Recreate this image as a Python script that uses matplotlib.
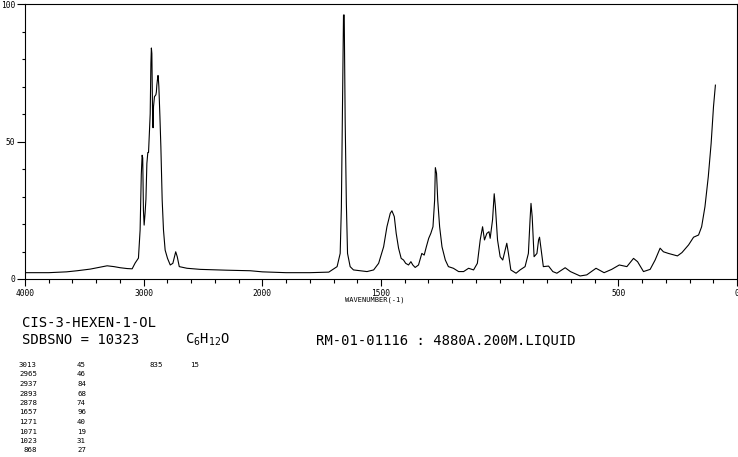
import matplotlib
matplotlib.use("Agg")
import matplotlib.pyplot as plt
import numpy as np

# Raman spectrum of cis-3-hexen-1-ol (SDBS style plot)
wavenumber = [
    4000, 3800, 3650, 3561, 3450, 3380, 3308, 3250, 3198, 3140, 3097, 3072,
    3044, 3030, 3020, 3013, 3008, 3002, 2996, 2988, 2981, 2973, 2965, 2959,
    2951, 2945, 2939, 2935, 2931, 2925, 2921, 2917, 2909, 2897, 2893, 2889,
    2880, 2878, 2872, 2863, 2855, 2844, 2833, 2819, 2799, 2776, 2754, 2740,
    2730, 2717, 2700, 2635, 2523, 2300, 2101, 2000,
    1900, 1800, 1720, 1685, 1672, 1667, 1663, 1658, 1655, 1651, 1646, 1641,
    1630, 1616, 1559, 1531, 1510, 1489, 1475, 1461, 1454, 1444, 1436, 1426,
    1415, 1405, 1396, 1384, 1374, 1366, 1356, 1342, 1328, 1318, 1309, 1299,
    1290, 1281, 1274, 1271, 1266, 1261, 1253, 1243, 1229, 1216, 1195, 1173,
    1152, 1131, 1110, 1094, 1082, 1072, 1064, 1054, 1045, 1040, 1030, 1023,
    1018, 1009, 998, 987, 977, 970, 963, 953, 931, 914, 893, 879, 872, 868,
    863, 855, 843, 836, 832, 825, 816, 794, 776, 759, 724, 702, 661, 633,
    594, 560, 528, 496, 464, 436, 419, 394, 366, 345, 324, 310, 289, 251,
    232, 204, 183, 162, 149, 135, 121, 109, 99, 91,
]
intensity = [
    2.3, 2.3, 2.6, 3.0, 3.6, 4.2, 4.8, 4.5, 4.1, 3.8, 3.7, 5.8,
    7.6, 17.8, 38.0, 45.0, 44.0, 25.0, 19.6, 24.0, 29.0, 42.0, 46.0, 46.0,
    54.0, 60.0, 78.5, 84.0, 82.0, 60.0, 55.0, 62.7, 66.3, 67.0, 68.0, 70.5,
    74.0, 74.0, 70.0, 59.0, 48.0, 28.7, 17.8, 10.5, 7.5, 5.1, 5.7, 8.1,
    9.9, 8.1, 4.5, 3.9, 3.5, 3.2, 3.0, 2.6,
    2.3, 2.3, 2.5, 4.5, 9.3, 26.0, 57.8, 96.0, 96.0, 57.8, 27.6, 9.3,
    4.5, 3.3, 2.7, 3.3, 5.7, 11.7, 19.0, 23.9, 24.8, 22.7, 16.6, 11.2,
    7.5, 6.9, 5.7, 5.1, 6.3, 5.1, 4.2, 5.1, 9.3, 8.7, 11.7, 14.8,
    16.6, 19.0, 28.7, 40.5, 38.4, 28.7, 19.0, 11.7, 6.9, 4.5, 3.9, 2.7,
    2.7, 3.9, 3.3, 5.7, 14.2, 19.0, 14.2, 16.6, 17.2, 14.8, 21.5, 31.0,
    26.3, 14.2, 8.1, 6.9, 10.5, 13.0, 9.3, 3.3, 2.1, 3.3, 4.5, 9.3, 21.5, 27.5,
    22.7, 8.1, 9.3, 14.2, 15.2, 10.5, 4.5, 4.7, 2.7, 2.1, 4.1, 2.7, 1.1, 1.5,
    3.9, 2.3, 3.5, 5.1, 4.5, 7.5, 6.3, 2.7, 3.5, 6.9, 11.2, 9.9, 9.3, 8.4,
    9.6, 12.4, 15.2, 16.0, 19.0, 26.3, 37.2, 49.3, 62.7, 70.5,
]

# peak table printed under the plot
peak_wn = ["3013", "2965", "2937", "2893", "2878", "1657", "1271", "1071", "1023", "868"]
peak_int = ["45", "46", "84", "68", "74", "96", "40", "19", "31", "27"]
peak2_wn = ["835"]
peak2_int = ["15"]

x_major = [4000, 3000, 2000, 1500, 500, 0]
x_minor = list(range(4000, 2000, -200)) + list(range(2000, -1, -100))

W, H = 738, 457
fig = plt.figure(figsize=(W / 100, H / 100), dpi=100)
ax = fig.add_axes([25 / W, 1 - 279 / H, 712 / W, 275 / H])


# split scale: 4000-2000 is drawn at half the density of 2000-0
def fwd(w):
    w = np.asarray(w, dtype=float)
    return np.where(w <= 2000, 2 * w, w + 2000)


def inv(u):
    u = np.asarray(u, dtype=float)
    return np.where(u <= 4000, u / 2, u - 2000)


ax.set_xscale("function", functions=(fwd, inv))
ax.plot(wavenumber, intensity, color="black", linewidth=0.8)
ax.set_xlim(4000, 0)
ax.set_ylim(0, 100)

tick_font = dict(family="DejaVu Sans Mono", size=5.7)
ax.set_xticks(x_major)
ax.set_xticklabels([str(v) for v in x_major], **tick_font)
ax.set_xticks(x_minor, minor=True)
ax.set_yticks([0, 50, 100])
ax.set_yticklabels(["0", "50", "100"], **tick_font)
ax.set_yticks(range(0, 101, 10), minor=True)

ax.tick_params(axis="x", which="major", direction="out", length=5, width=0.8, pad=2)
ax.tick_params(axis="x", which="minor", direction="out", length=3, width=0.8)
ax.tick_params(axis="y", which="major", direction="out", length=6, width=0.8, pad=1)
ax.tick_params(axis="y", which="minor", direction="out", length=2.2, width=0.8)
for s in ax.spines.values():
    s.set_linewidth(0.8)

fig.text(345 / W, 1 - 300 / H, "WAVENUMBER(-1)", family="DejaVu Sans Mono",
         fontsize=5.0, va="center", ha="left")

big = dict(family="DejaVu Sans Mono", fontsize=10, va="center", ha="left")
fig.text(22 / W, 1 - 323 / H, "CIS-3-HEXEN-1-OL", **big)
fig.text(22 / W, 1 - 340 / H, "SDBSNO = 10323", **big)
fig.text(185 / W, 1 - 340 / H, r"$\mathregular{C_6H_{12}O}$", **big)
fig.text(316 / W, 1 - 340 / H, "RM-01-01116 : 4880A.200M.LIQUID", **big)

small = dict(family=["Liberation Sans Narrow", "DejaVu Sans Mono"], fontsize=5.3, va="center")
for i, (a, b) in enumerate(zip(peak_wn, peak_int)):
    y = 1 - (365 + 9.5 * i) / H
    fig.text(37 / W, y, a, ha="right", **small)
    fig.text(77 / W, y, b, ha="left", **small)
for i, (a, b) in enumerate(zip(peak2_wn, peak2_int)):
    y = 1 - (365 + 9.5 * i) / H
    fig.text(163 / W, y, a, ha="right", **small)
    fig.text(190 / W, y, b, ha="left", **small)

fig.savefig("out.png", dpi=100)
